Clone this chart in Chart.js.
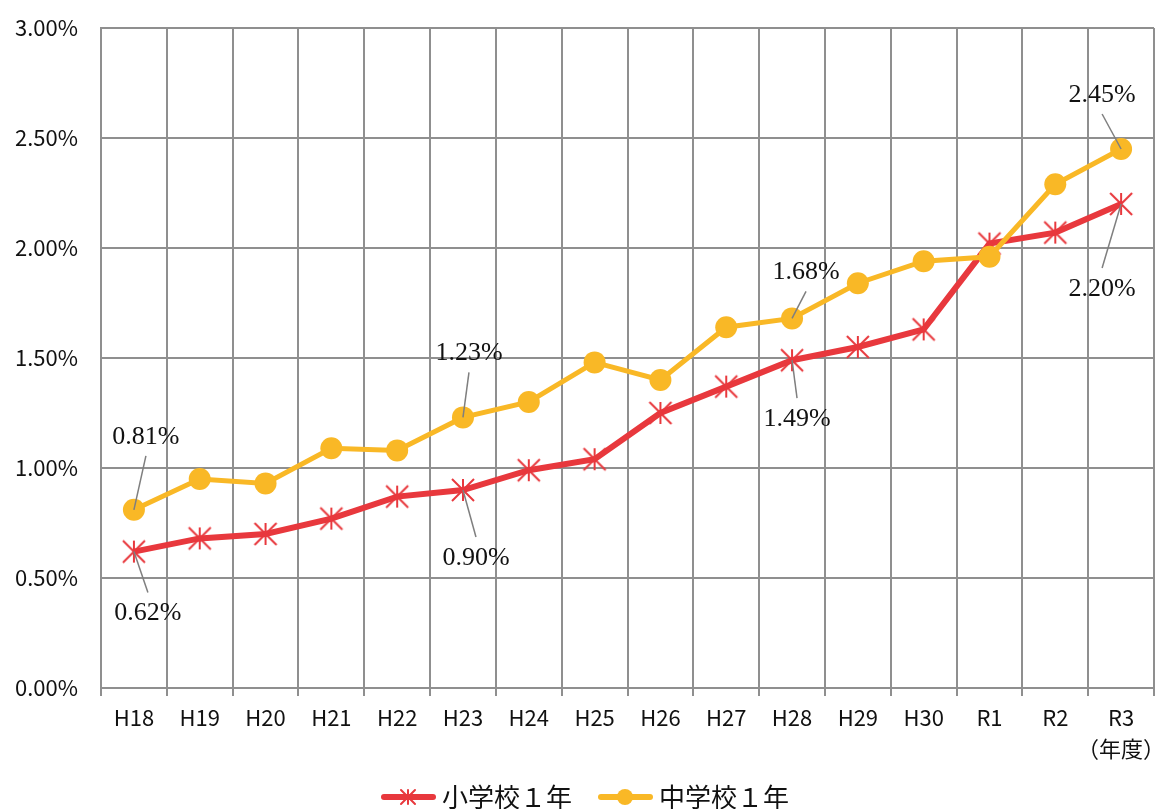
<!DOCTYPE html>
<html>

<head>
    <meta charset="utf-8">
    <title>不登校児童生徒の割合の推移</title>
    <script src="https://cdn.jsdelivr.net/npm/chart.js"></script>
    <style>
        body { margin: 0; background: #fff; overflow: hidden; }
        .chart-box { position: relative; width: 1161px; height: 820px; }
    </style>
</head>

<body>
    <div class="chart-box">
        <canvas id="rate-chart"></canvas>
    </div>

    <script>
        // School years (last one carries the unit line underneath)
        const years = ['H18', 'H19', 'H20', 'H21', 'H22', 'H23', 'H24', 'H25', 'H26',
            'H27', 'H28', 'H29', 'H30', 'R1', 'R2', ['R3', '（年度）']];

        // Rates in percent
        const elementary = [0.62, 0.68, 0.70, 0.77, 0.87, 0.90, 0.99, 1.04, 1.25,
            1.37, 1.49, 1.55, 1.63, 2.02, 2.07, 2.20];
        const juniorHigh = [0.81, 0.95, 0.93, 1.09, 1.08, 1.23, 1.30, 1.48, 1.40,
            1.64, 1.68, 1.84, 1.94, 1.96, 2.29, 2.45];

        const seriesNames = ['小学校１年', '中学校１年'];

        const RED = '#e8383d';
        const GOLD = '#f9b826';
        const GRID = '#8f8f8f';

        // where the value callouts go, relative to their point
        const callouts = [
            { ds: 1, i: 0, dx: 12, dy: -73 },
            { ds: 0, i: 0, dx: 14, dy: 62 },
            { ds: 1, i: 5, dx: 6, dy: -64 },
            { ds: 0, i: 5, dx: 13, dy: 68 },
            { ds: 1, i: 10, dx: 14, dy: -46 },
            { ds: 0, i: 10, dx: 5, dy: 59 },
            { ds: 1, i: 15, dx: -19, dy: -54 },
            { ds: 0, i: 15, dx: -19, dy: 85 }
        ];

        // asterisk marker: vertical bar plus an X
        function drawStar(ctx, cx, cy, r, width) {
            ctx.strokeStyle = RED;
            ctx.lineWidth = width;
            ctx.beginPath();
            ctx.moveTo(cx, cy - r); ctx.lineTo(cx, cy + r);
            ctx.moveTo(cx - r, cy - r); ctx.lineTo(cx + r, cy + r);
            ctx.moveTo(cx + r, cy - r); ctx.lineTo(cx - r, cy + r);
            ctx.stroke();
        }

        const starMarker = document.createElement('canvas');
        starMarker.width = 26; starMarker.height = 26;
        drawStar(starMarker.getContext('2d'), 13, 13, 11, 2);

        // legend swatches: line with its marker, drawn in the right part of the image
        function makeSwatch(color, marker) {
            const c = document.createElement('canvas');
            c.width = 78; c.height = 24;
            const g = c.getContext('2d');
            g.strokeStyle = color;
            g.lineWidth = 6;
            g.lineCap = 'round';
            g.beginPath(); g.moveTo(26, 12); g.lineTo(75, 12); g.stroke();
            if (marker === 'star') {
                drawStar(g, 50, 12, 7, 2);
            } else {
                g.fillStyle = color;
                g.beginPath(); g.arc(50, 12, 8, 0, Math.PI * 2); g.fill();
            }
            return c;
        }
        const swatches = [makeSwatch(RED, 'star'), makeSwatch(GOLD, 'circle')];

        const valueCallouts = {
            id: 'valueCallouts',
            afterDatasetsDraw(chart) {
                const ctx = chart.ctx;
                ctx.save();
                ctx.font = '26px "Liberation Serif"';
                ctx.textAlign = 'center';
                ctx.textBaseline = 'middle';
                callouts.forEach(c => {
                    const pt = chart.getDatasetMeta(c.ds).data[c.i];
                    const v = chart.data.datasets[c.ds].data[c.i];
                    const tx = pt.x + c.dx;
                    const ty = pt.y + c.dy;
                    ctx.strokeStyle = '#7f7f7f';
                    ctx.lineWidth = 1.5;
                    ctx.beginPath();
                    ctx.moveTo(tx, ty + (c.dy < 0 ? 19 : -21));
                    ctx.lineTo(pt.x, pt.y);
                    ctx.stroke();
                    ctx.fillStyle = '#111';
                    ctx.fillText(v.toFixed(2) + '%', tx, ty);
                });
                ctx.restore();
            }
        };

        const tickFont = { family: '"Noto Sans CJK JP"', size: 22, lineHeight: 1.4 };

        new Chart(document.getElementById('rate-chart'), {
            type: 'line',
            data: {
                labels: years,
                datasets: [
                    {
                        label: seriesNames[0],
                        data: elementary,
                        borderColor: RED,
                        backgroundColor: RED,
                        borderWidth: 6,
                        pointStyle: starMarker,
                        order: 1
                    },
                    {
                        label: seriesNames[1],
                        data: juniorHigh,
                        borderColor: GOLD,
                        backgroundColor: GOLD,
                        borderWidth: 5,
                        pointStyle: 'circle',
                        pointRadius: 11,
                        pointBorderWidth: 0,
                        order: 0
                    }
                ]
            },
            options: {
                responsive: true,
                maintainAspectRatio: false,
                animation: false,
                layout: {
                    autoPadding: false,
                    padding: { top: 28, right: 7, left: 0, bottom: 0 }
                },
                plugins: {
                    tooltip: { enabled: false },
                    legend: {
                        position: 'bottom',
                        labels: {
                            usePointStyle: true,
                            pointStyleWidth: 64,
                            padding: 10,
                            color: '#111',
                            font: { family: '"Noto Sans CJK JP"', size: 26 },
                            generateLabels: (chart) => chart.data.datasets.map((ds, i) => ({
                                text: ds.label,
                                pointStyle: swatches[i],
                                fillStyle: ds.borderColor,
                                strokeStyle: ds.borderColor,
                                lineWidth: 0,
                                fontColor: '#111',
                                datasetIndex: i,
                                hidden: false
                            }))
                        }
                    }
                },
                scales: {
                    x: {
                        offset: true,
                        grid: { offset: true, color: GRID, lineWidth: 2, tickLength: 8 },
                        border: { color: GRID, width: 2 },
                        ticks: { color: '#111', font: tickFont, padding: 6, maxRotation: 0, autoSkip: false },
                        afterFit: (scale) => {
                            scale.height = 86;
                            scale.paddingLeft = 0;
                            scale.paddingRight = 0;
                        }
                    },
                    y: {
                        min: 0,
                        max: 3,
                        grid: { color: GRID, lineWidth: 2, drawTicks: false },
                        border: { color: GRID, width: 2 },
                        ticks: {
                            stepSize: 0.5,
                            color: '#111',
                            font: tickFont,
                            padding: 23,
                            callback: (v) => v.toFixed(2) + '%'
                        },
                        afterFit: (scale) => {
                            scale.width = 101;
                            scale.paddingTop = 0;
                            scale.paddingBottom = 0;
                        }
                    }
                }
            },
            plugins: [valueCallouts]
        });
    </script>
</body>

</html>
